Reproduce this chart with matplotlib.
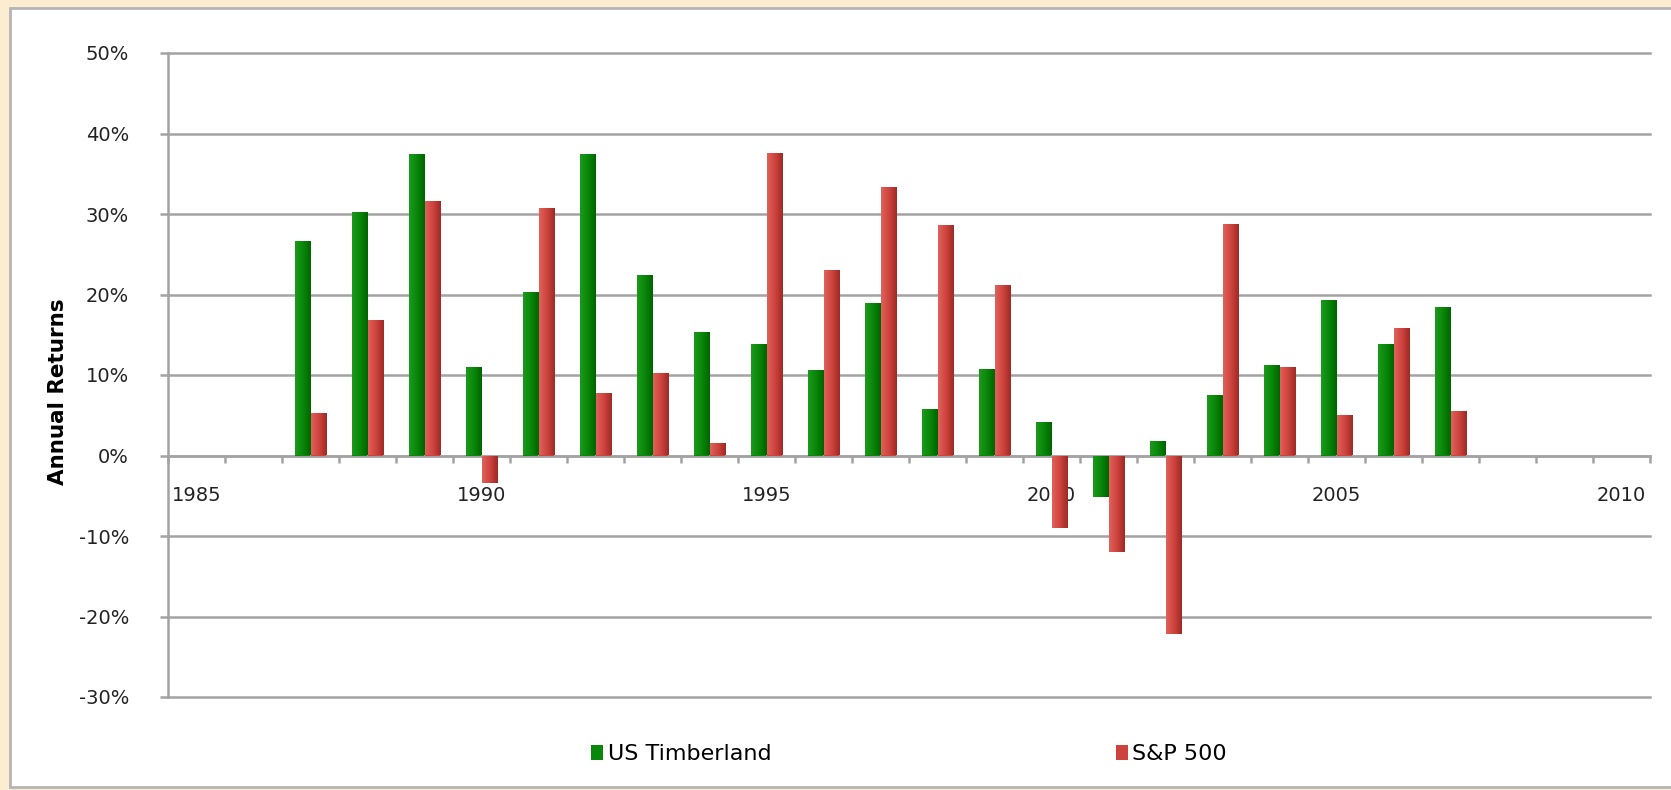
import numpy as np
import matplotlib
matplotlib.use("Agg")
import matplotlib.pyplot as plt
from matplotlib.colors import LinearSegmentedColormap
from matplotlib.patches import Rectangle
from matplotlib.ticker import FixedLocator, FuncFormatter

years = list(range(1987, 2008))
timberland = [26.6, 30.3, 37.5, 11.0, 20.3, 37.5, 22.4, 15.3, 13.9, 10.6,
              18.9, 5.8, 10.7, 4.2, -5.2, 1.8, 7.5, 11.2, 19.3, 13.8, 18.5]
sp500 = [5.3, 16.8, 31.6, -3.4, 30.8, 7.8, 10.2, 1.5, 37.6, 23.1,
         33.3, 28.6, 21.2, -9.0, -12.0, -22.2, 28.8, 11.0, 5.0, 15.8, 5.5]
label_years = [1985, 1990, 1995, 2000, 2005, 2010]
y_ticks = [-30, -20, -10, 0, 10, 20, 30, 40, 50]

grid_col = "#a3a3a3"
green_map = LinearSegmentedColormap.from_list("g", ["#1c9a1c", "#0a870a", "#006400"])
red_map = LinearSegmentedColormap.from_list("r", ["#e0625c", "#cf433d", "#9e2a26"])

fig = plt.figure(figsize=(16.71, 7.90), dpi=100)
fig.patch.set_facecolor("#fbecd2")
# white chart panel with grey frame
fig.patches.append(Rectangle((10 / 1671, 3 / 790), 1.0, 1 - 11 / 790,
                             transform=fig.transFigure, facecolor="white",
                             edgecolor="#b5b5b5", lw=2.0, zorder=-5))

ax = fig.add_axes([168 / 1671, 1 - 697 / 790, (1650 - 168) / 1671, (697 - 53) / 790])
ax.set_facecolor("none")
ax.set_zorder(2)

w = 0.28
x = np.array(years, dtype=float)
b1 = ax.bar(x - w / 2, timberland, width=w, color="#0a870a", zorder=3, label="US Timberland")
b2 = ax.bar(x + w / 2, sp500, width=w, color="#cf433d", zorder=3, label="S&P 500")

grad = np.linspace(0, 1, 64).reshape(1, -1)
for bars, cmap in ((b1, green_map), (b2, red_map)):
    for b in bars:
        x0, y0 = b.get_xy()
        bw, bh = b.get_width(), b.get_height()
        im = ax.imshow(grad, extent=[x0, x0 + bw, min(y0, y0 + bh), max(y0, y0 + bh)],
                       aspect="auto", cmap=cmap, zorder=4, interpolation="bicubic")
        im.set_clip_path(b)

ax.set_xlim(1984.5, 2010.5)
ax.set_ylim(-30, 50)

ax.set_yticks(y_ticks)
ax.yaxis.set_major_formatter(FuncFormatter(lambda v, p: f"{v:.0f}%"))
ax.grid(axis="y", color=grid_col, lw=1.8, zorder=1)
for gl in ax.get_ygridlines():
    gl.set_clip_on(False)
ax.tick_params(axis="y", length=6, width=1.8, color=grid_col, labelsize=14,
               labelcolor="#222222", pad=22)

ax.spines["top"].set_visible(False)
ax.spines["right"].set_visible(False)
ax.spines["left"].set_color(grid_col)
ax.spines["left"].set_linewidth(1.8)
ax.spines["bottom"].set_position(("data", 0))
ax.spines["bottom"].set_color(grid_col)
ax.spines["bottom"].set_linewidth(1.8)

ax.set_xticks(label_years)
ax.xaxis.set_minor_locator(FixedLocator(np.arange(1984.5, 2011, 1.0)))
ax.tick_params(axis="x", which="major", length=0, labelsize=14,
               labelcolor="#222222", pad=22)
ax.tick_params(axis="x", which="minor", length=5, width=1.8, color=grid_col)

fig.text(58 / 1671, 1 - 392 / 790, "Annual Returns", rotation=90, fontsize=15.5,
         fontweight="bold", ha="center", va="center")

fig.legend(handles=[b1, b2], loc="center", bbox_to_anchor=(909 / 1671, 1 - 754 / 790),
           ncol=2, frameon=False, fontsize=16, handlelength=0.55, handleheight=0.65,
           handletextpad=0.2, columnspacing=15.5)

fig.savefig("out.png", dpi=100, facecolor=fig.get_facecolor())
